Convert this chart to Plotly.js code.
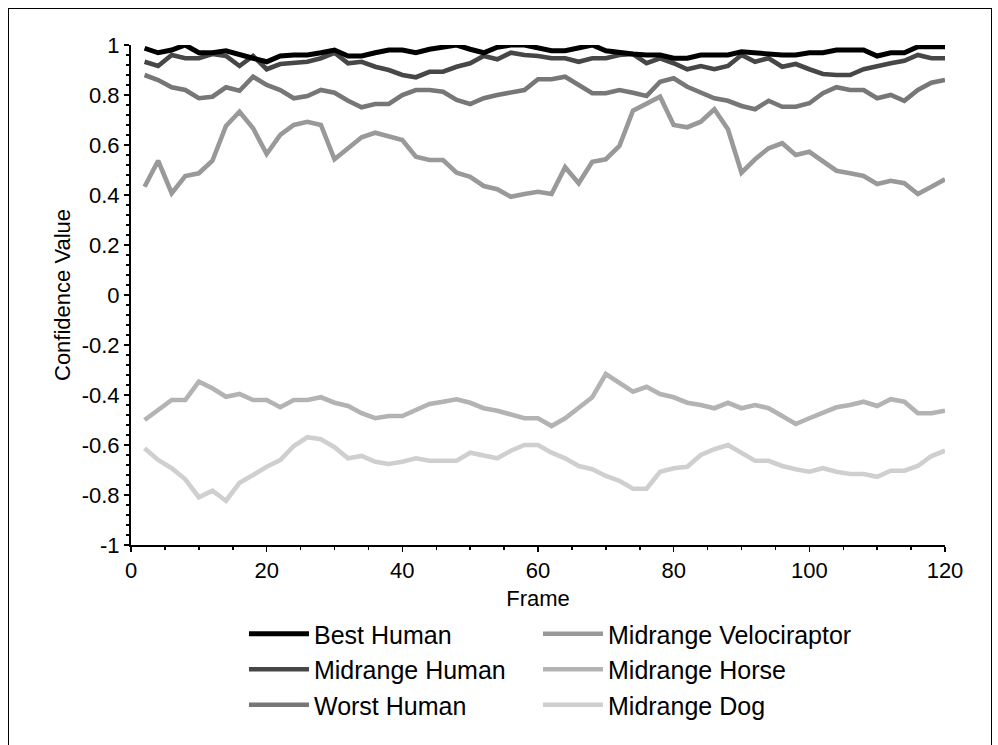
<!DOCTYPE html>
<html>
<head>
<meta charset="utf-8">
<script src="https://cdn.plot.ly/plotly-3.0.1.min.js"></script>
<style>
html,body{margin:0;padding:0;background:#fff;overflow:hidden;}
#chart{width:998px;height:745px;}
#frame{position:absolute;left:8px;top:8px;width:982px;height:800px;border:1px solid #000;pointer-events:none;}
</style>
</head>
<body>
<div id="chart"></div>
<div id="frame"></div>
<script>
const frames = [2,4,6,8,10,12,14,16,18,20,22,24,26,28,30,32,34,36,38,40,
  42,44,46,48,50,52,54,56,58,60,62,64,66,68,70,72,74,76,78,80,
  82,84,86,88,90,92,94,96,98,100,102,104,106,108,110,112,114,116,118,120];

const bestHuman = [0.987,0.969,0.98,1.0,0.969,0.969,0.977,0.96,0.947,0.933,0.956,0.96,0.96,0.969,0.98,0.956,0.956,0.969,0.98,0.98,
  0.969,0.983,0.991,1.0,0.983,0.969,0.991,1.0,1.0,0.991,0.977,0.977,0.991,1.0,0.977,0.969,0.964,0.96,0.96,0.947,
  0.947,0.96,0.96,0.96,0.973,0.969,0.96,0.96,0.96,0.969,0.969,0.98,0.98,0.98,0.956,0.969,0.969,0.993,0.993,0.993];

const midrangeHuman = [0.933,0.916,0.96,0.947,0.947,0.964,0.956,0.916,0.956,0.903,0.924,0.927,0.933,0.947,0.969,0.927,0.933,0.913,0.9,0.88,
  0.871,0.893,0.893,0.913,0.927,0.956,0.943,0.969,0.96,0.956,0.947,0.947,0.933,0.947,0.947,0.96,0.964,0.927,0.947,0.927,
  0.903,0.916,0.903,0.916,0.96,0.933,0.947,0.913,0.924,0.903,0.884,0.88,0.88,0.903,0.916,0.927,0.937,0.96,0.947,0.947];

const worstHuman = [0.88,0.86,0.831,0.82,0.787,0.793,0.831,0.817,0.873,0.84,0.82,0.787,0.796,0.82,0.809,0.777,0.751,0.764,0.764,0.8,
  0.82,0.82,0.813,0.78,0.764,0.787,0.8,0.809,0.82,0.863,0.863,0.873,0.84,0.807,0.807,0.82,0.809,0.796,0.853,0.867,
  0.833,0.809,0.787,0.777,0.756,0.743,0.777,0.753,0.753,0.767,0.807,0.831,0.82,0.82,0.787,0.8,0.777,0.82,0.849,0.86];

const midrangeVelociraptor = [0.433,0.537,0.407,0.476,0.487,0.537,0.676,0.733,0.667,0.564,0.64,0.68,0.693,0.68,0.543,0.587,0.631,0.649,0.636,0.62,
  0.553,0.54,0.54,0.489,0.473,0.436,0.423,0.393,0.404,0.413,0.404,0.511,0.447,0.533,0.543,0.596,0.737,0.767,0.793,0.68,
  0.671,0.693,0.743,0.663,0.489,0.543,0.587,0.607,0.56,0.573,0.533,0.497,0.487,0.476,0.444,0.457,0.447,0.404,0.433,0.463];

const midrangeHorse = [-0.5,-0.46,-0.42,-0.42,-0.347,-0.373,-0.407,-0.396,-0.42,-0.42,-0.449,-0.42,-0.42,-0.409,-0.431,-0.444,-0.473,-0.493,-0.484,-0.484,
  -0.46,-0.436,-0.427,-0.417,-0.431,-0.453,-0.463,-0.48,-0.493,-0.493,-0.524,-0.493,-0.453,-0.409,-0.316,-0.351,-0.387,-0.367,-0.396,-0.409,
  -0.431,-0.44,-0.453,-0.431,-0.453,-0.44,-0.453,-0.484,-0.516,-0.493,-0.473,-0.449,-0.44,-0.427,-0.444,-0.417,-0.427,-0.473,-0.473,-0.463];

const midrangeDog = [-0.613,-0.66,-0.693,-0.737,-0.809,-0.783,-0.823,-0.751,-0.72,-0.687,-0.66,-0.604,-0.569,-0.577,-0.609,-0.653,-0.644,-0.667,-0.676,-0.667,
  -0.653,-0.663,-0.663,-0.663,-0.631,-0.64,-0.653,-0.623,-0.6,-0.6,-0.631,-0.653,-0.684,-0.697,-0.724,-0.743,-0.775,-0.775,-0.707,-0.693,
  -0.687,-0.64,-0.617,-0.6,-0.633,-0.663,-0.663,-0.684,-0.697,-0.707,-0.693,-0.707,-0.716,-0.716,-0.727,-0.703,-0.703,-0.684,-0.644,-0.623];

const seriesNames = ["Best Human","Midrange Human","Worst Human","Midrange Velociraptor","Midrange Horse","Midrange Dog"];
const xTickVals = [0,20,40,60,80,100,120];
const xTickText = ["0","20","40","60","80","100","120"];
const yTickVals = [-1,-0.8,-0.6,-0.4,-0.2,0,0.2,0.4,0.6,0.8,1];
const yTickText = ["-1","-0.8","-0.6","-0.4","-0.2","0","0.2","0.4","0.6","0.8","1"];

const seriesData = [bestHuman, midrangeHuman, worstHuman, midrangeVelociraptor, midrangeHorse, midrangeDog];
const colors = ["#000000","#474747","#777777","#999999","#b3b3b3","#cfcfcf"];
const widths = [5,4.6,4.6,4.6,4.6,4.6];
const legendIds = ["legend","legend","legend","legend2","legend2","legend2"];

// draw in reverse so Best Human is on top
const traces = [];
for (let i = seriesData.length - 1; i >= 0; i--) {
  traces.push({
    type: "scatter", mode: "lines",
    x: frames, y: seriesData[i], name: seriesNames[i],
    line: {color: colors[i], width: widths[i]},
    legend: legendIds[i], legendgroup: "g" + i, legendrank: i + 1,
    hoverinfo: "skip"
  });
}

const font = {family: "Liberation Sans, Arial, sans-serif", size: 22, color: "#000"};
const titleFont = {family: font.family, size: 22, color: "#000"};
const legendCommon = {
  orientation: "v", xanchor: "left", yanchor: "top",
  bgcolor: "rgba(0,0,0,0)", borderwidth: 0,
  font: {family: font.family, size: 25, color: "#000"},
  tracegroupgap: 2.5, itemwidth: 60, traceorder: "normal"
};

const layout = {
  width: 998, height: 745,
  margin: {l: 131, r: 53, t: 45, b: 200},
  paper_bgcolor: "#fff", plot_bgcolor: "#fff",
  font: font,
  showlegend: true,
  xaxis: {
    range: [0, 120], tickmode: "array", tickvals: xTickVals, ticktext: xTickText,
    ticks: "outside", ticklen: 5, tickwidth: 1.5, tickcolor: "#000",
    showline: true, linecolor: "#000", linewidth: 2,
    showgrid: false, zeroline: false,
    minor: {dtick: 5, tick0: 0, ticks: "outside", ticklen: 3, tickwidth: 1.5, tickcolor: "#000", showgrid: false},
    title: {text: "Frame", font: titleFont, standoff: 8},
    automargin: false
  },
  yaxis: {
    range: [-1, 1], tickmode: "array", tickvals: yTickVals, ticktext: yTickText,
    ticks: "outside", ticklen: 5, tickwidth: 1.5, tickcolor: "#000",
    showline: true, linecolor: "#000", linewidth: 2,
    showgrid: false, zeroline: false,
    minor: {dtick: 0.04, tick0: 0, ticks: "outside", ticklen: 3, tickwidth: 1.5, tickcolor: "#000", showgrid: false},
    title: {text: "Confidence Value", font: titleFont, standoff: 5},
    automargin: false
  },
  legend: Object.assign({}, legendCommon, {x: 0.1388, y: -0.132}),
  legend2: Object.assign({}, legendCommon, {x: 0.5, y: -0.132})
};

Plotly.newPlot("chart", traces, layout, {staticPlot: true, displayModeBar: false});
</script>
</body>
</html>
